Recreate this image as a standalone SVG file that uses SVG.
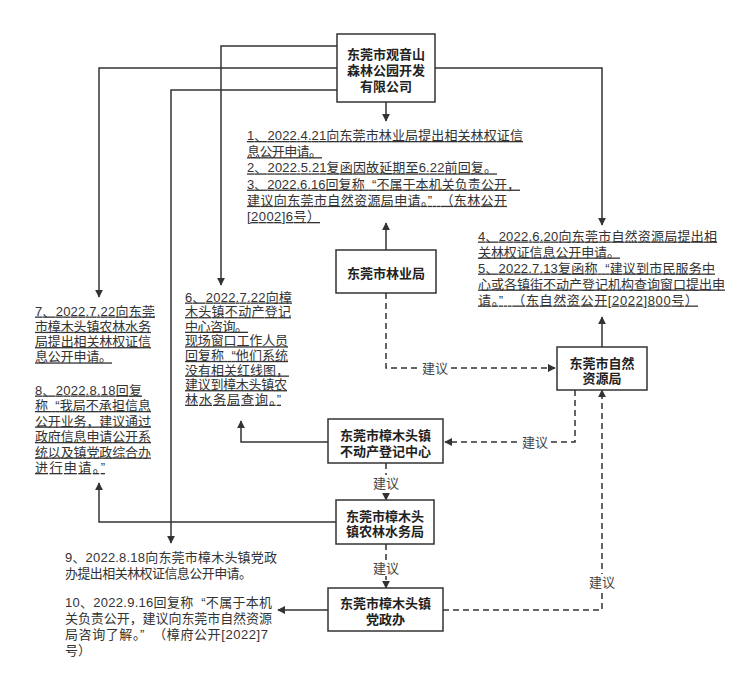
<svg xmlns="http://www.w3.org/2000/svg" width="750" height="696" viewBox="0 0 750 696">
<style>
.box{fill:#fff;stroke:#333;stroke-width:1.5}
.bt{font-family:"Liberation Sans","Noto Sans CJK SC",sans-serif;font-size:13px;font-weight:bold;fill:#222;text-anchor:middle}
.t{font-family:"Liberation Sans","Noto Sans CJK SC",sans-serif;font-size:13px;fill:#333}
.u{text-decoration:underline}
.ln{fill:none;stroke:#333;stroke-width:1.5}
.dl{fill:none;stroke:#333;stroke-width:1.5;stroke-dasharray:6 4}
.lb{font-family:"Liberation Sans","Noto Sans CJK SC",sans-serif;font-size:13px;fill:#444;text-anchor:middle}
.lbg{fill:#fff}
</style>
<defs>
<marker id="ah" viewBox="0 0 10 10" refX="9" refY="5" markerWidth="8" markerHeight="8" markerUnits="userSpaceOnUse" orient="auto">
<path d="M0,0 L10,5 L0,10 z" fill="#333"/>
</marker>
</defs>
<rect width="750" height="696" fill="#fff"/>
<g id="connectors">
<path class="ln" d="M386,102 V121" marker-end="url(#ah)"/>
<path class="ln" d="M337,46 H221 V285" marker-end="url(#ah)"/>
<path class="ln" d="M337,68 H99 V297" marker-end="url(#ah)"/>
<path class="ln" d="M337,90 H171 V543" marker-end="url(#ah)"/>
<path class="ln" d="M435,68 H602 V225" marker-end="url(#ah)"/>
<path class="ln" d="M386,250 V223" marker-end="url(#ah)"/>
<path class="dl" d="M386,293 V368 H555" marker-end="url(#ah)"/>
<path class="ln" d="M602,347 V317" marker-end="url(#ah)"/>
<path class="dl" d="M575,390 V442 H445" marker-end="url(#ah)"/>
<path class="ln" d="M328,442 H241 V421" marker-end="url(#ah)"/>
<path class="dl" d="M386,463 V500" marker-end="url(#ah)"/>
<path class="ln" d="M336,522 H99 V483" marker-end="url(#ah)"/>
<path class="dl" d="M386,544 V588" marker-end="url(#ah)"/>
<path class="ln" d="M328,610 H278" marker-end="url(#ah)"/>
<path class="dl" d="M443,610 H602 V390" marker-end="url(#ah)"/>
<rect class="lbg" x="419" y="360" width="32" height="16"/>
<text class="lb" x="435" y="373">建议</text>
<rect class="lbg" x="519" y="434" width="32" height="16"/>
<text class="lb" x="535" y="447">建议</text>
<rect class="lbg" x="370" y="475" width="32" height="16"/>
<text class="lb" x="386" y="488">建议</text>
<rect class="lbg" x="370" y="560" width="32" height="16"/>
<text class="lb" x="386" y="573">建议</text>
<rect class="lbg" x="586" y="574" width="32" height="16"/>
<text class="lb" x="602" y="587">建议</text>
</g>
<g id="n-company">
<rect class="box" x="337" y="34" width="98" height="68"/>
<text class="bt" x="386" y="59">东莞市观音山</text>
<text class="bt" x="386" y="75">森林公园开发</text>
<text class="bt" x="386" y="91">有限公司</text>
</g>
<g id="n-linye">
<rect class="box" x="336" y="250" width="100" height="43"/>
<text class="bt" x="386" y="278">东莞市林业局</text>
</g>
<g id="n-ziran">
<rect class="box" x="557" y="347" width="90" height="43"/>
<text class="bt" x="602" y="368">东莞市自然</text>
<text class="bt" x="602" y="383">资源局</text>
</g>
<g id="n-budongchan">
<rect class="box" x="328" y="419" width="115" height="44"/>
<text class="bt" x="385.5" y="440">东莞市樟木头镇</text>
<text class="bt" x="385.5" y="456">不动产登记中心</text>
</g>
<g id="n-nonglin">
<rect class="box" x="336" y="500" width="98" height="44"/>
<text class="bt" x="385" y="521">东莞市樟木头</text>
<text class="bt" x="385" y="536">镇农林水务局</text>
</g>
<g id="n-dangzheng">
<rect class="box" x="328" y="588" width="115" height="43"/>
<text class="bt" x="385.5" y="608">东莞市樟木头镇</text>
<text class="bt" x="385.5" y="624">党政办</text>
</g>
<g id="note-1-3">
<text class="t u" x="247" y="140" textLength="276" lengthAdjust="spacing">1、2022.4.21向东莞市林业局提出相关林权证信</text>
<text class="t u" x="247" y="156.2" textLength="75" lengthAdjust="spacing">息公开申请。</text>
<text class="t u" x="247" y="172.4" textLength="250" lengthAdjust="spacing">2、2022.5.21复函因故延期至6.22前回复。</text>
<text class="t u" x="247" y="188.6" textLength="273" lengthAdjust="spacing">3、2022.6.16回复称&#160;&#160;“不属于本机关负责公开，</text>
<text class="t u" x="247" y="204.8" textLength="260" lengthAdjust="spacing">建议向东莞市自然资源局申请。”&#160;&#160;（东林公开</text>
<text class="t u" x="247" y="221" textLength="73" lengthAdjust="spacing">[2002]6号）</text>
</g>
<g id="note-4-5">
<text class="t u" x="478" y="240.5" textLength="239" lengthAdjust="spacing">4、2022.6.20向东莞市自然资源局提出相</text>
<text class="t u" x="478" y="256.5" textLength="142" lengthAdjust="spacing">关林权证信息公开申请。</text>
<text class="t u" x="478" y="272.5" textLength="237" lengthAdjust="spacing">5、2022.7.13复函称&#160;&#160;“建议到市民服务中</text>
<text class="t u" x="478" y="288.5" textLength="247" lengthAdjust="spacing">心或各镇街不动产登记机构查询窗口提出申</text>
<text class="t u" x="478" y="304.5" textLength="220" lengthAdjust="spacing">请。”&#160;&#160;（东自然资公开[2022]800号）</text>
</g>
<g id="note-6">
<text class="t u" x="185" y="301.5" textLength="107" lengthAdjust="spacing">6、2022.7.22向樟</text>
<text class="t u" x="185" y="316.1" textLength="106" lengthAdjust="spacing">木头镇不动产登记</text>
<text class="t u" x="185" y="330.7" textLength="63" lengthAdjust="spacing">中心咨询。</text>
<text class="t u" x="185" y="345.3" textLength="103" lengthAdjust="spacing">现场窗口工作人员</text>
<text class="t u" x="185" y="359.9" textLength="103" lengthAdjust="spacing">回复称&#160;&#160;“他们系统</text>
<text class="t u" x="185" y="374.5" textLength="104" lengthAdjust="spacing">没有相关红线图，</text>
<text class="t u" x="185" y="389.1" textLength="102" lengthAdjust="spacing">建议到樟木头镇农</text>
<text class="t u" x="185" y="403.7" textLength="96" lengthAdjust="spacing">林水务局查询。”</text>
</g>
<g id="note-7-8">
<text class="t u" x="35" y="315.5" textLength="120" lengthAdjust="spacing">7、2022.7.22向东莞</text>
<text class="t u" x="35" y="330.8" textLength="116" lengthAdjust="spacing">市樟木头镇农林水务</text>
<text class="t u" x="35" y="346.1" textLength="116" lengthAdjust="spacing">局提出相关林权证信</text>
<text class="t u" x="35" y="361.4" textLength="77" lengthAdjust="spacing">息公开申请。</text>
<text class="t u" x="35" y="394.5" textLength="107" lengthAdjust="spacing">8、2022.8.18回复</text>
<text class="t u" x="35" y="410" textLength="116" lengthAdjust="spacing">称&#160;&#160;“我局不承担信息</text>
<text class="t u" x="35" y="425.5" textLength="116" lengthAdjust="spacing">公开业务，建议通过</text>
<text class="t u" x="35" y="441" textLength="116" lengthAdjust="spacing">政府信息申请公开系</text>
<text class="t u" x="35" y="456.5" textLength="116" lengthAdjust="spacing">统以及镇党政综合办</text>
<text class="t u" x="35" y="472" textLength="70" lengthAdjust="spacing">进行申请。”</text>
</g>
<g id="note-9-10">
<text class="t" x="65" y="561.5" textLength="212" lengthAdjust="spacing">9、2022.8.18向东莞市樟木头镇党政</text>
<text class="t" x="65" y="577.5" textLength="187" lengthAdjust="spacing">办提出相关林权证信息公开申请。</text>
<text class="t" x="65" y="606.5" textLength="207" lengthAdjust="spacing">10、2022.9.16回复称&#160;&#160;“不属于本机</text>
<text class="t" x="65" y="622.5" textLength="207" lengthAdjust="spacing">关负责公开，建议向东莞市自然资源</text>
<text class="t" x="65" y="638.5" textLength="203" lengthAdjust="spacing">局咨询了解。”&#160;&#160;（樟府公开[2022]7</text>
<text class="t" x="65" y="654.5">号）</text>
</g>
</svg>
